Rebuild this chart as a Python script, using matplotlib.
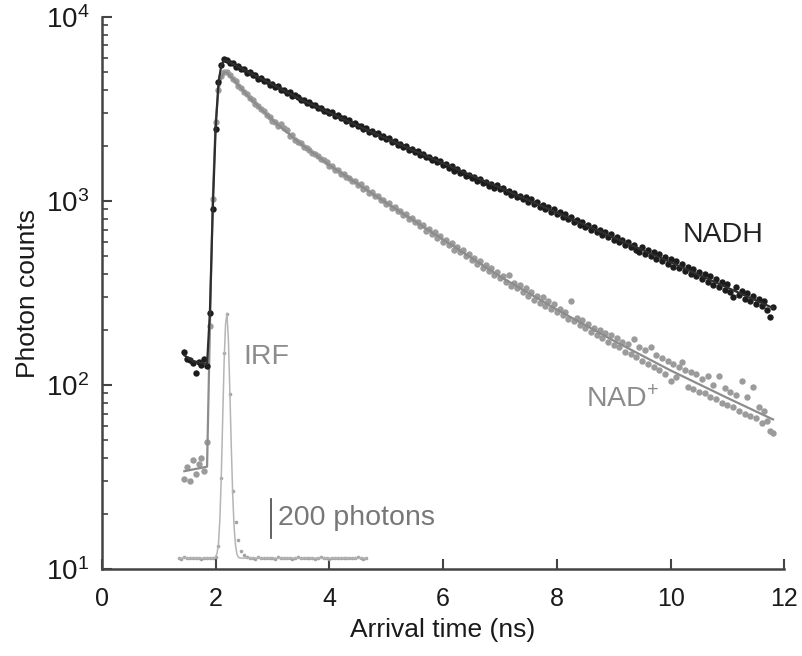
import numpy as np
import matplotlib
matplotlib.use("Agg")
import matplotlib.pyplot as plt

plt.rcParams['font.family'] = ['Liberation Sans', 'DejaVu Sans']
plt.rcParams['mathtext.default'] = 'regular'

# TCSPC channels: 0.05 ns wide
dt = 0.05
t0_decay = 1.45
t0_irf = 1.35

# NADH photon counts per channel, from 1.45 ns
nadh = [152, 138, 136, 131, 116, 133, 129, 138, 127, 246,
        905, 2450, 4450, 5500, 5900, 5850, 5600, 5620, 5380, 5400,
        5190, 5230, 4990, 5040, 4820, 4830, 4610, 4680, 4470, 4500,
        4290, 4330, 4150, 4200, 3990, 4020, 3850, 3900, 3700, 3760,
        3660, 3530, 3560, 3420, 3440, 3310, 3330, 3200, 3220, 3100,
        3100, 3000, 3030, 2900, 2920, 2810, 2830, 2720, 2750, 2630,
        2650, 2550, 2570, 2460, 2490, 2380, 2400, 2310, 2330, 2230,
        2250, 2160, 2190, 2090, 2110, 2020, 2050, 1960, 1980, 1900,
        1920, 1840, 1870, 1780, 1800, 1730, 1740, 1670, 1700, 1620,
        1640, 1570, 1590, 1510, 1540, 1460, 1490, 1420, 1440, 1370,
        1390, 1330, 1350, 1280, 1310, 1250, 1270, 1210, 1240, 1180,
        1220, 1160, 1180, 1120, 1140, 1080, 1100, 1050, 1070, 1020,
        1050, 990, 1020, 960, 985, 930, 955, 905, 925, 875,
        900, 850, 870, 820, 845, 795, 815, 770, 790, 745,
        770, 720, 745, 700, 720, 680, 700, 655, 675, 635,
        660, 615, 640, 595, 615, 580, 600, 560, 580, 545,
        530, 560, 515, 545, 500, 530, 485, 515, 470, 495,
        455, 485, 440, 470, 430, 455, 415, 440, 400, 425,
        390, 410, 375, 400, 365, 390, 350, 375, 340, 365,
        330, 355, 320, 300, 340, 310, 325, 295, 315, 285,
        305, 275, 295, 270, 285, 255, 235, 265]

# NAD+ photon counts per channel, from 1.45 ns
nad = [31, 36, 30, 39, 33, 37, 40, 34, 49, 210,
       1020, 2680, 4000, 4750, 5050, 5000, 4850, 4580, 4470, 4230,
       4120, 3900, 3800, 3620, 3530, 3360, 3300, 3150, 3080, 2930,
       2870, 2730, 2700, 2570, 2610, 2480, 2420, 2260, 2280, 2150,
       2090, 2060, 1970, 1950, 1900, 1820, 1800, 1750, 1690, 1660,
       1620, 1550, 1540, 1480, 1470, 1410, 1400, 1350, 1340, 1280,
       1280, 1220, 1230, 1160, 1170, 1110, 1120, 1060, 1070, 1010,
       1010, 960, 970, 920, 925, 880, 885, 840, 845, 800,
       810, 770, 765, 730, 740, 690, 705, 660, 675, 630,
       645, 600, 615, 575, 590, 545, 565, 525, 540, 500,
       515, 475, 490, 455, 470, 435, 450, 415, 430, 395,
       410, 380, 390, 365, 395, 345, 360, 335, 350, 320,
       335, 305, 320, 290, 305, 280, 300, 270, 285, 260,
       275, 250, 260, 240, 250, 228, 286, 222, 232, 212,
       225, 205, 215, 195, 205, 188, 200, 180, 192, 172,
       188, 165, 180, 160, 172, 152, 168, 148, 178, 142,
       160, 135, 155, 130, 160, 125, 145, 120, 140, 115,
       135, 105, 130, 110, 125, 133, 120, 98, 118, 95,
       115, 92, 108, 90, 112, 86, 100, 84, 112, 80,
       96, 78, 92, 76, 88, 72, 105, 70, 86, 68,
       97, 66, 76, 62, 72, 64, 56, 55]

# IRF counts (linear scale), from 1.35 ns
irf = [2, -3, 4, 0, -2, 3, -1, 2, -4, 1,
       3, -2, 1, 5, 62, 410, 1050, 1250, 840, 343,
       185, 92, 36, 15, 6, -2, 3, -3, 4, 0,
       -2, 3, -1, 2, -3, 4, 1, -2, 3, 0,
       -3, 2, 4, -1, 1, -2, 3, 0, -3, 2,
       4, -1, 2, -3, 1, 3, -2, 0, 2, -1,
       3, -2, 1, 4, -1, -3, 2]

# fitted curves
nadh_fit_t = [1.45, 1.60, 1.85, 1.90, 1.95, 2.00, 2.05, 2.10, 2.15, 2.20, 2.30,
              2.60, 3.00, 3.50, 4.50, 5.50, 7.00, 8.50, 10.00, 11.80]
nadh_fit = [145, 135, 130, 250, 900, 2450, 4400, 5450, 5800, 5780, 5560,
            4970, 4290, 3560, 2560, 1870, 1180, 740, 465, 262]
nad_fit_t = [1.45, 1.85, 1.90, 1.95, 2.00, 2.05, 2.10, 2.15, 2.20, 2.60, 3.00,
             3.50, 4.00, 5.00, 6.00, 7.00, 8.00, 9.00, 10.00, 11.00, 11.80]
nad_fit = [34, 36, 210, 1020, 2680, 4000, 4700, 5000, 5000, 3631, 2754,
           2042, 1567, 978, 617, 389, 257, 174, 120, 85, 65]
irf_fit_t = [1.35, 1.98, 2.00, 2.025, 2.05, 2.075, 2.10, 2.125, 2.15, 2.175, 2.20,
             2.225, 2.25, 2.275, 2.30, 2.325, 2.35, 2.375, 2.40, 2.425, 4.65]
irf_fit = [0, 0, 5, 25, 70, 200, 420, 720, 1010, 1200, 1255,
           1120, 860, 580, 330, 160, 65, 20, 5, 0, 0]

t_decay = t0_decay + dt * np.arange(len(nadh))
t_irf = t0_irf + dt * np.arange(len(irf))

axis_col = '#444444'
fig = plt.figure(figsize=(8.02, 6.56), dpi=100)
ax = fig.add_axes([0.127, 0.1326, 0.851, 0.8415])

ax.plot(t_decay, nad, 'o', ms=4.6, color='#9b9b9b', mec='none', zorder=2)
ax.plot(nad_fit_t, nad_fit, '-', lw=1.6, color='#8c8c8c', zorder=3)
ax.plot(t_decay, nadh, 'o', ms=4.6, color='#1c1c1c', mec='none', zorder=4)
ax.plot(nadh_fit_t, nadh_fit, '-', lw=1.6, color='#2e2e2e', zorder=5)

ax.set_yscale('log')
ax.set_xlim(0, 12)
ax.set_ylim(10, 1e4)
ax.set_xticks([0, 2, 4, 6, 8, 10, 12])
for s in ['top', 'right']:
    ax.spines[s].set_visible(False)
for s in ['left', 'bottom']:
    ax.spines[s].set_color(axis_col)
    ax.spines[s].set_linewidth(1.8)
ax.tick_params(which='major', direction='in', length=7, width=1.5, color=axis_col,
               labelcolor='#1a1a1a')
ax.tick_params(which='minor', direction='in', length=4, width=1.2, color=axis_col)
ax.tick_params(axis='x', labelsize=18, pad=13)
ax.tick_params(axis='y', labelsize=20, pad=9)
ax.set_xlabel('Arrival time (ns)', fontsize=19, color='#1a1a1a', labelpad=5)
ax.set_ylabel('Photon counts', fontsize=19, color='#1a1a1a', labelpad=4)

ax.text(10.92, 653, 'NADH', fontsize=20.5, color='#222222', ha='center', va='center')
ax.text(9.15, 83, r'NAD$^{\mathregular{+}}$', fontsize=20.5, color='#8c8c8c',
        ha='center', va='center')
ax.text(2.48, 142, 'IRF', fontsize=20.5, color='#8c8c8c', ha='left', va='center')

# IRF on its own linear scale
ax2 = ax.twinx()
ax2.set_ylim(-56, 2774)
ax2.set_xlim(0, 12)
ax2.plot(t_irf, irf, 'o', ms=2.6, color='#a3a3a3', mec='none')
ax2.plot(irf_fit_t, irf_fit, '-', lw=1.1, color='#b5b5b5')
ax2.plot([2.98, 2.98], [105, 305], '-', lw=1.3, color='#555555')
ax2.text(3.1, 205, '200 photons', fontsize=20.5, color='#777777', ha='left', va='center')
ax2.axis('off')

fig.savefig('out.png', dpi=100)
